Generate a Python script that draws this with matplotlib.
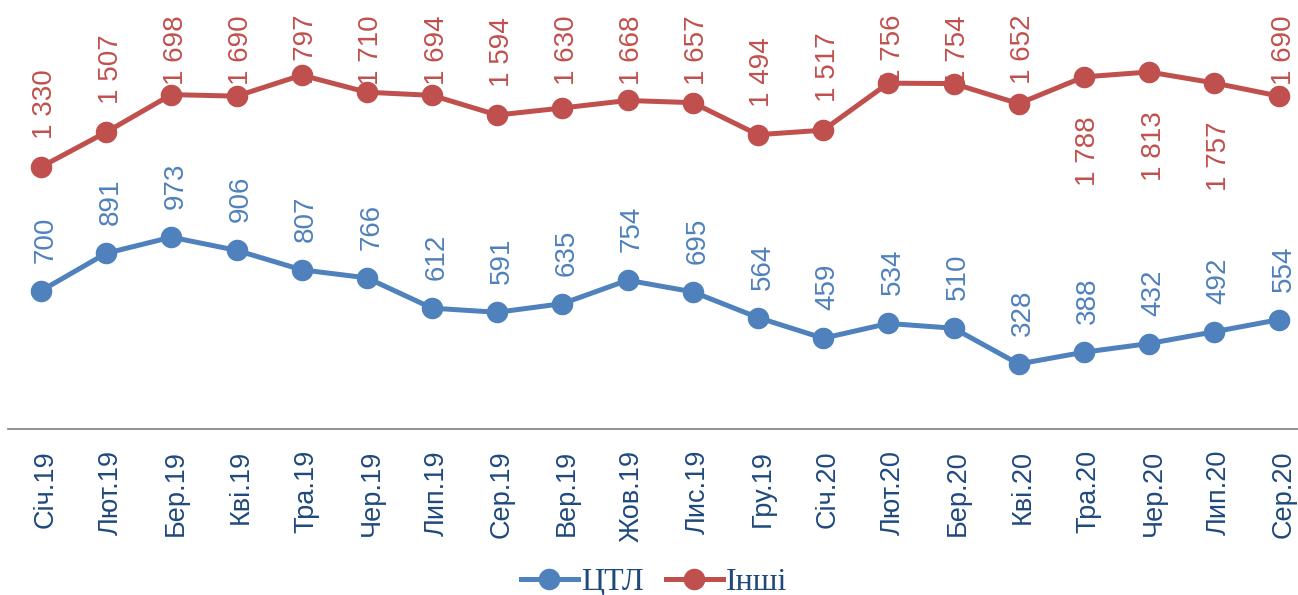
import matplotlib
matplotlib.use('Agg')
import matplotlib.pyplot as plt
from matplotlib.transforms import ScaledTranslation

months = ['Січ.19', 'Лют.19', 'Бер.19', 'Кві.19', 'Тра.19', 'Чер.19', 'Лип.19',
          'Сер.19', 'Вер.19', 'Жов.19', 'Лис.19', 'Гру.19', 'Січ.20', 'Лют.20',
          'Бер.20', 'Кві.20', 'Тра.20', 'Чер.20', 'Лип.20', 'Сер.20']
ctl = [700, 891, 973, 906, 807, 766, 612, 591, 635, 754, 695, 564, 459, 534,
       510, 328, 388, 432, 492, 554]
other = [1330, 1507, 1698, 1690, 1797, 1710, 1694, 1594, 1630, 1668, 1657, 1494,
         1517, 1756, 1754, 1652, 1788, 1813, 1757, 1690]
# labels of these points go under the marker
other_below = [16, 17, 18]

BLUE = '#4F81BD'
RED = '#C0504D'
NAVY = '#1F497D'

W, H, DPI = 1298, 595, 100
fig = plt.figure(figsize=(W / DPI, H / DPI), dpi=DPI)
ax = fig.add_axes([8.4 / W, 1 - 428.5 / H, (1312 - 8.4) / W, 428.5 / H])

x = list(range(len(months)))
ax.plot(x, ctl, color=BLUE, lw=3.6, marker='o', ms=14.5, zorder=3, label='ЦТЛ')
ax.plot(x, other, color=RED, lw=3.6, marker='o', ms=14.5, zorder=3, label='Інші')

ax.set_xlim(-0.5, 19.5)
ax.set_ylim(0, 2179)

def fmt(v):
    return f'{v:,}'.replace(',', ' ')

px = 72 / DPI
dx = 4.5 * px
labels = []
for i, v in enumerate(ctl):
    t = ax.annotate(fmt(v), (i, v), xytext=(dx, 28 * px), textcoords='offset points',
                    rotation=90, ha='center', va='bottom', color=BLUE,
                    fontsize=20, family='Liberation Sans', zorder=1)
    labels.append(t)
for i, v in enumerate(other):
    if i in other_below:
        ax.annotate(fmt(v), (i, v), xytext=(dx, -39 * px), textcoords='offset points',
                    rotation=90, ha='center', va='top', color=RED,
                    fontsize=20, family='Liberation Sans', zorder=1)
    else:
        t = ax.annotate(fmt(v), (i, v), xytext=(dx, 28 * px), textcoords='offset points',
                        rotation=90, ha='center', va='bottom', color=RED,
                        fontsize=20, family='Liberation Sans', zorder=1)
        labels.append(t)

ax.set_xticks(x)
ax.set_xticklabels(months, rotation=90, fontsize=19.5, family='Liberation Sans',
                   color=NAVY, va='top', ha='center')
ax.tick_params(axis='x', length=0, pad=15.5)
shift = ScaledTranslation(4.5 / DPI, 0, fig.dpi_scale_trans)
for lab in ax.get_xticklabels():
    lab.set_transform(lab.get_transform() + shift)
ax.set_yticks([])
for s in ['left', 'right', 'top']:
    ax.spines[s].set_visible(False)
ax.spines['bottom'].set_color('#898989')
ax.spines['bottom'].set_linewidth(1.3)

leg = fig.legend(loc='center', bbox_to_anchor=(654 / W, 1 - 582 / H), ncol=2,
                 frameon=False, handlelength=1.78, handletextpad=0.1,
                 columnspacing=0.7, prop={'family': 'Liberation Serif', 'size': 23})
for t in leg.get_texts():
    t.set_color(NAVY)

# keep labels inside the top margin: push them down toward the marker
fig.canvas.draw()
r = fig.canvas.get_renderer()
top_px = H - 15
for t in labels:
    bb = t.get_window_extent(r)
    if bb.y1 > top_px:
        t.xyann = (t.xyann[0], t.xyann[1] - (bb.y1 - top_px) * px)

fig.savefig('out.png', dpi=DPI)
